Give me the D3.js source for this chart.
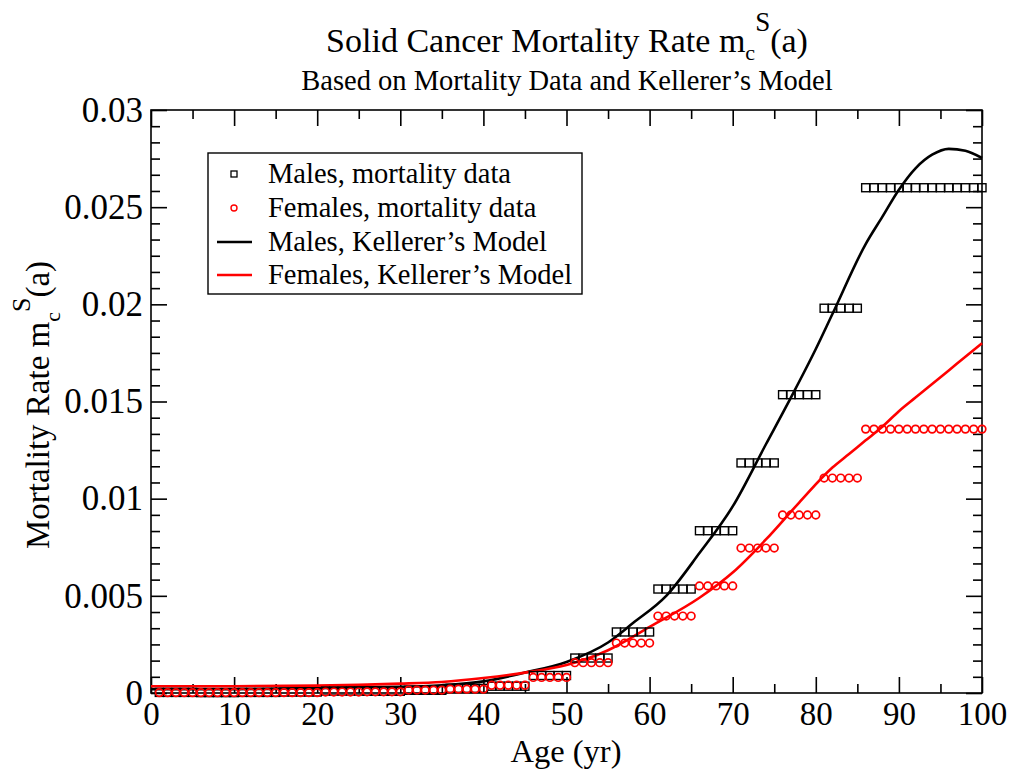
<!DOCTYPE html>
<html><head><meta charset="utf-8">
<script src="https://cdn.jsdelivr.net/npm/d3@7"></script>
<style>
body{margin:0;background:#fff}
svg{display:block}
text{font-family:"Liberation Serif","Times New Roman",serif;fill:#000}
</style>
</head><body>
<svg id="chart" width="1011" height="769"></svg>
<script>
// ---------- DATA ----------
const ages = [1,2,3,4,5,6,7,8,9,10,11,12,13,14,15,16,17,18,19,20,
  21,22,23,24,25,26,27,28,29,30,31,32,33,34,35,36,37,38,39,40,
  41,42,43,44,45,46,47,48,49,50,51,52,53,54,55,56,57,58,59,60,
  61,62,63,64,65,66,67,68,69,70,71,72,73,74,75,76,77,78,79,80,
  81,82,83,84,85,86,87,88,89,90,91,92,93,94,95,96,97,98,99,100];

const malesData = [
  0.00003,0.00003,0.00003,0.00003,0.00003, 0.00002,0.00002,0.00002,0.00002,0.00002,
  0.00003,0.00003,0.00003,0.00003,0.00003, 0.00005,0.00005,0.00005,0.00005,0.00005,
  0.0001,0.0001,0.0001,0.0001,0.0001, 0.00009,0.00009,0.00009,0.00009,0.00009,
  0.00014,0.00014,0.00014,0.00014,0.00014, 0.00024,0.00024,0.00024,0.00024,0.00024,
  0.00035,0.00035,0.00035,0.00035,0.00035, 0.0009,0.0009,0.0009,0.0009,0.0009,
  0.0018,0.0018,0.0018,0.0018,0.0018, 0.00314,0.00314,0.00314,0.00314,0.00314,
  0.00535,0.00535,0.00535,0.00535,0.00535, 0.00835,0.00835,0.00835,0.00835,0.00835,
  0.01184,0.01184,0.01184,0.01184,0.01184, 0.01535,0.01535,0.01535,0.01535,0.01535,
  0.0198,0.0198,0.0198,0.0198,0.0198, 0.026,0.026,0.026,0.026,0.026,
  0.026,0.026,0.026,0.026,0.026, 0.026,0.026,0.026,0.026,0.026];

const femalesData = [
  0.00002,0.00002,0.00002,0.00002,0.00002, 0.00002,0.00002,0.00002,0.00002,0.00002,
  0.00002,0.00002,0.00002,0.00002,0.00002, 0.00002,0.00002,0.00002,0.00002,0.00002,
  0.00005,0.00005,0.00005,0.00005,0.00005, 0.00006,0.00006,0.00006,0.00006,0.00006,
  0.00015,0.00015,0.00015,0.00015,0.00015, 0.0002,0.0002,0.0002,0.0002,0.0002,
  0.0004,0.0004,0.0004,0.0004,0.0004, 0.0008,0.0008,0.0008,0.0008,0.0008,
  0.00156,0.00156,0.00156,0.00156,0.00156, 0.00257,0.00257,0.00257,0.00257,0.00257,
  0.00396,0.00396,0.00396,0.00396,0.00396, 0.00551,0.00551,0.00551,0.00551,0.00551,
  0.00746,0.00746,0.00746,0.00746,0.00746, 0.00916,0.00916,0.00916,0.00916,0.00916,
  0.01106,0.01106,0.01106,0.01106,0.01106, 0.01358,0.01358,0.01358,0.01358,0.01358,
  0.01358,0.01358,0.01358,0.01358,0.01358, 0.01358,0.01358,0.01358,0.01358,0.01358];

const malesModelAges = [0,10,20,25,30,35,40,45,50,55,58,62,66,70,74,77,80,82,86,88,90,92,94,96,98,100];
const malesModel = [0.0002,0.0002,0.00025,0.0003,0.00032,0.0004,0.0006,0.00105,0.0016,0.0026,0.0036,0.0050,
  0.0072,0.0096,0.0128,0.0152,0.0177,0.0195,0.0231,0.0245,0.0259,0.0270,0.0277,0.0280,0.0279,0.02753];

const femalesModelAges = [0,10,20,25,30,35,40,45,50,55,60,66,70,74,78,82,84,86,88,90,92,94,96,98,100];
const femalesModel = [0.00035,0.00035,0.00038,0.00042,0.00048,0.00057,0.00077,0.00105,0.00144,0.0022,0.0034,
  0.0049,0.0062,0.0079,0.0098,0.0116,0.0123,0.0130,0.0137,0.0145,0.0152,0.0159,0.0166,0.0173,0.0180];

const xTicks = [0,10,20,30,40,50,60,70,80,90,100];
const xMinorTicks = [5,15,25,35,45,55,65,75,85,95];
const yTicks = [0,0.005,0.01,0.015,0.02,0.025,0.03];
const yTickLabels = ["0","0.005","0.01","0.015","0.02","0.025","0.03"];
const legendLabels = ["Males, mortality data","Females, mortality data","Males, Kellerer\u2019s Model","Females, Kellerer\u2019s Model"];

// ---------- CHART ----------
const svg = d3.select("#chart");
const L = 151, R = 982, T = 110, B = 693;
const x = d3.scaleLinear().domain([0,100]).range([L,R]);
const y = d3.scaleLinear().domain([0,0.03]).range([B,T]);

const yMinor = [];
for (let i = 0; i < 36; i++) { if (i % 6 !== 0) yMinor.push(i * 0.005 / 6); }

const axisStyle = g => {
  g.selectAll("path,line").attr("stroke","#000").attr("stroke-width",1.6);
  g.select(".domain").remove();
};

svg.append("g").attr("transform",`translate(0,${B})`)
  .call(d3.axisBottom(x).tickValues(xTicks).tickSize(-16).tickSizeOuter(0).tickPadding(9).tickFormat(d3.format("d")))
  .call(axisStyle)
  .call(g => g.selectAll("text").attr("font-size",33).attr("font-family","Liberation Serif"));
svg.append("g").attr("transform",`translate(0,${B})`)
  .call(d3.axisBottom(x).tickValues(xMinorTicks).tickSize(-9).tickSizeOuter(0).tickFormat(""))
  .call(axisStyle);
svg.append("g").attr("transform",`translate(0,${T})`)
  .call(d3.axisTop(x).tickValues(xTicks).tickSize(-16).tickSizeOuter(0).tickFormat(""))
  .call(axisStyle);
svg.append("g").attr("transform",`translate(0,${T})`)
  .call(d3.axisTop(x).tickValues(xMinorTicks).tickSize(-9).tickSizeOuter(0).tickFormat(""))
  .call(axisStyle);

svg.append("g").attr("transform",`translate(${L},0)`)
  .call(d3.axisLeft(y).tickValues(yTicks).tickSize(-16).tickSizeOuter(0).tickPadding(8).tickFormat((d,i)=>yTickLabels[i]))
  .call(axisStyle)
  .call(g => g.selectAll("text").attr("font-size",35).attr("font-family","Liberation Serif"));
svg.append("g").attr("transform",`translate(${L},0)`)
  .call(d3.axisLeft(y).tickValues(yMinor).tickSize(-9).tickSizeOuter(0).tickFormat(""))
  .call(axisStyle);
svg.append("g").attr("transform",`translate(${R},0)`)
  .call(d3.axisRight(y).tickValues(yTicks).tickSize(-16).tickSizeOuter(0).tickFormat(""))
  .call(axisStyle);
svg.append("g").attr("transform",`translate(${R},0)`)
  .call(d3.axisRight(y).tickValues(yMinor).tickSize(-9).tickSizeOuter(0).tickFormat(""))
  .call(axisStyle);

svg.append("rect").attr("x",L).attr("y",T).attr("width",R-L).attr("height",B-T)
  .attr("fill","none").attr("stroke","#000").attr("stroke-width",1.6);

// model lines
const line = d3.line().x(d=>x(d[0])).y(d=>y(d[1])).curve(d3.curveMonotoneX);
svg.append("path").datum(malesModelAges.map((a,i)=>[a,malesModel[i]]))
  .attr("d",line).attr("fill","none").attr("stroke","#000").attr("stroke-width",2.6);
svg.append("path").datum(femalesModelAges.map((a,i)=>[a,femalesModel[i]]))
  .attr("d",line).attr("fill","none").attr("stroke","#ff0000").attr("stroke-width",2.6);

// data markers
const sq = 8;
svg.append("g").selectAll("rect").data(ages.map((a,i)=>[a,malesData[i]])).join("rect")
  .attr("x",d=>x(d[0])-sq/2).attr("y",d=>y(d[1])-sq/2).attr("width",sq).attr("height",sq)
  .attr("fill","none").attr("stroke","#000").attr("stroke-width",1.4);
svg.append("g").selectAll("circle").data(ages.map((a,i)=>[a,femalesData[i]])).join("circle")
  .attr("cx",d=>x(d[0])).attr("cy",d=>y(d[1])).attr("r",3.8)
  .attr("fill","none").attr("stroke","#ff0000").attr("stroke-width",1.7);

// titles
const title = svg.append("text").attr("x",567).attr("y",52).attr("text-anchor","middle").attr("font-size",34);
title.append("tspan").text("Solid Cancer Mortality Rate m");
title.append("tspan").attr("dy",8).attr("font-size",22).text("c");
title.append("tspan").attr("dy",-29).attr("font-size",27).text("S");
title.append("tspan").attr("dy",21).attr("font-size",34).text("(a)");

svg.append("text").attr("x",567).attr("y",90).attr("text-anchor","middle").attr("font-size",28.5)
  .text("Based on Mortality Data and Kellerer\u2019s Model");

// axis labels
svg.append("text").attr("x",566).attr("y",762).attr("text-anchor","middle").attr("font-size",32.5).text("Age (yr)");
const yl = svg.append("text").attr("transform","translate(49,405) rotate(-90)").attr("text-anchor","middle").attr("font-size",33);
yl.append("tspan").text("Mortality Rate m");
yl.append("tspan").attr("dy",11).attr("font-size",22).text("c");
yl.append("tspan").attr("dy",-30).attr("font-size",26).text("S");
yl.append("tspan").attr("dy",19).attr("font-size",33).text("(a)");

// legend
const lg = svg.append("g");
lg.append("rect").attr("x",208).attr("y",153).attr("width",374).attr("height",141)
  .attr("fill","#fff").attr("stroke","#000").attr("stroke-width",1.4);
const rows = [174,208,242,275];
lg.append("rect").attr("x",231).attr("y",rows[0]-3).attr("width",6).attr("height",6)
  .attr("fill","none").attr("stroke","#000").attr("stroke-width",1.3);
lg.append("circle").attr("cx",234).attr("cy",rows[1]).attr("r",3)
  .attr("fill","none").attr("stroke","#ff0000").attr("stroke-width",1.4);
lg.append("line").attr("x1",217).attr("x2",252).attr("y1",rows[2]).attr("y2",rows[2]).attr("stroke","#000").attr("stroke-width",2.6);
lg.append("line").attr("x1",217).attr("x2",252).attr("y1",rows[3]).attr("y2",rows[3]).attr("stroke","#ff0000").attr("stroke-width",2.6);
lg.selectAll("text.l").data(legendLabels).join("text").attr("class","l")
  .attr("x",268).attr("y",(d,i)=>rows[i]+9).attr("font-size",28.5).text(d=>d);
</script>
</body></html>
